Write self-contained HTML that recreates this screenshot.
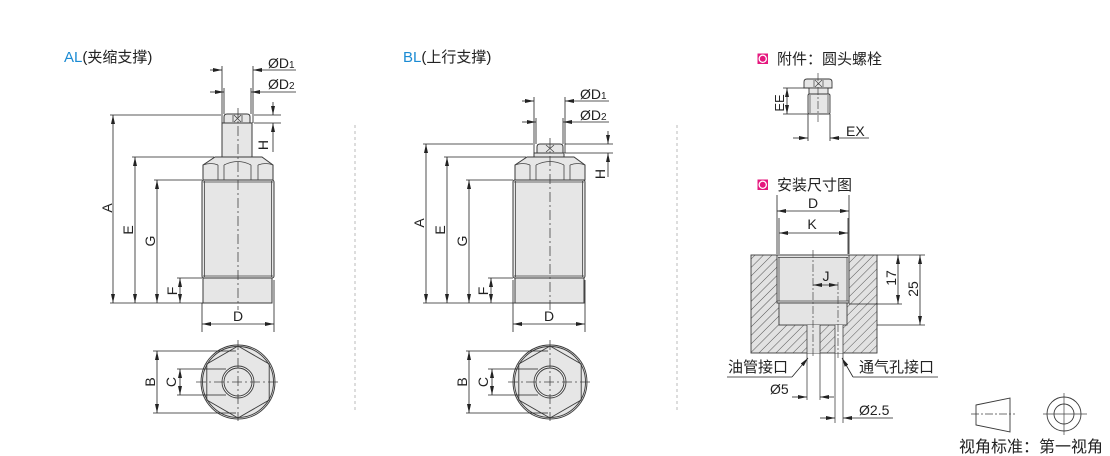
<!DOCTYPE html>
<html><head><meta charset="utf-8">
<style>
html,body{margin:0;padding:0;background:#fff}
svg{display:block}
text{font-family:"Liberation Sans","Noto Sans CJK SC",sans-serif;fill:#222}
</style></head>
<body>
<svg width="1110" height="456" viewBox="0 0 1110 456" xmlns="http://www.w3.org/2000/svg">
<defs>
<marker id="ar" viewBox="0 0 9 4" refX="9" refY="2" markerWidth="9" markerHeight="4" orient="auto-start-reverse" markerUnits="userSpaceOnUse"><path d="M0,0L9,2L0,4z" fill="#222"/></marker>
<pattern id="h" width="6" height="6" patternUnits="userSpaceOnUse" patternTransform="rotate(45)"><rect width="6" height="6" fill="#e2e2e2"/><line x1="0" y1="0" x2="0" y2="6" stroke="#555" stroke-width="1"/></pattern>
</defs>

<!-- separators -->
<line x1="355" y1="125" x2="355" y2="410" stroke="#bbb" stroke-width="1" stroke-dasharray="3 3"/>
<line x1="677" y1="125" x2="677" y2="410" stroke="#bbb" stroke-width="1" stroke-dasharray="3 3"/>

<!-- ================= AL ================= -->
<text x="64" y="62" font-size="15"><tspan fill="#1b8bd3">AL</tspan>(夹缩支撑)</text>

<g fill="#e6e6e6" stroke="#3a3a3a" stroke-width="1">
  <rect x="202" y="180" width="72" height="98" rx="2"/>
  <rect x="203" y="278" width="69" height="25"/>
  <polygon points="215,157 262,157 273,165 273,180 203,180 203,165"/>
  <rect x="222" y="123" width="30" height="34"/>
  <path d="M224,123V117Q224,114 227,114H247Q250,114 250,117V123Z"/>
</g>
<g stroke="#444" stroke-width="0.8" fill="none">
  <path d="M204.5,181V277M271.5,181V277M203,182H273M203,276H273"/>
  <path d="M218,165V180M224,165V180M251,165V180M258,165V180"/>
  <path d="M203,165Q211,162 218,165M224,165Q238,158 251,165M258,165Q266,162 273,165"/>
  <path d="M233,115V122M242,115V122M234,115L241,122M241,115L234,122"/>
</g>
<line x1="238" y1="108" x2="238" y2="310" stroke="#444" stroke-width="0.8" stroke-dasharray="10 3 2 3"/>

<g stroke="#222" stroke-width="0.8" fill="none">
  <path d="M222,66V123M253,66V123M224,88V114M251,88V114"/>
  <line x1="210" y1="70" x2="222" y2="70" marker-end="url(#ar)"/>
  <line x1="296" y1="70" x2="253" y2="70" marker-end="url(#ar)"/>
  <line x1="210" y1="92" x2="224" y2="92" marker-end="url(#ar)"/>
  <line x1="296" y1="92" x2="251" y2="92" marker-end="url(#ar)"/>
  <path d="M254,115H281M254,123H281"/>
  <line x1="273" y1="102" x2="273" y2="115" marker-end="url(#ar)"/>
  <line x1="273" y1="152" x2="273" y2="123" marker-end="url(#ar)"/>
  <path d="M110,115H221M132,157H214M154,180H202M177,278H202M110,303H203"/>
  <line x1="113" y1="115" x2="113" y2="303" marker-start="url(#ar)" marker-end="url(#ar)"/>
  <line x1="135" y1="157" x2="135" y2="303" marker-start="url(#ar)" marker-end="url(#ar)"/>
  <line x1="157" y1="180" x2="157" y2="303" marker-start="url(#ar)" marker-end="url(#ar)"/>
  <line x1="180" y1="278" x2="180" y2="303" marker-start="url(#ar)" marker-end="url(#ar)"/>
  <path d="M202,303V332M274,280V332"/>
  <line x1="202" y1="324" x2="274" y2="324" marker-start="url(#ar)" marker-end="url(#ar)"/>
</g>
<text x="268" y="68" font-size="14">ØD<tspan font-size="10">1</tspan></text>
<text x="268" y="89" font-size="14">ØD<tspan font-size="10">2</tspan></text>
<text transform="translate(268,145) rotate(-90)" text-anchor="middle" font-size="14">H</text>
<text transform="translate(112,208) rotate(-90)" text-anchor="middle" font-size="14">A</text>
<text transform="translate(133,230) rotate(-90)" text-anchor="middle" font-size="14">E</text>
<text transform="translate(155,241) rotate(-90)" text-anchor="middle" font-size="14">G</text>
<text transform="translate(177,291) rotate(-90)" text-anchor="middle" font-size="14">F</text>
<text x="238" y="321" text-anchor="middle" font-size="14">D</text>

<!-- AL bottom view -->
<g fill="#e6e6e6" stroke="#3a3a3a" stroke-width="0.9">
  <circle cx="238" cy="382" r="37"/>
  <circle cx="238" cy="382" r="35.5" fill="none"/>
  <polygon points="238,346 269.2,364 269.2,400 238,418 206.8,400 206.8,364" fill="none"/>
  <circle cx="238" cy="382" r="16" fill="#f2f2f2"/>
  <circle cx="238" cy="382" r="14" fill="#e6e6e6"/>
</g>
<g stroke="#444" stroke-width="0.8" stroke-dasharray="10 3 2 3">
  <line x1="196" y1="382" x2="281" y2="382"/>
  <line x1="238" y1="340" x2="238" y2="421"/>
</g>
<g stroke="#222" stroke-width="0.8" fill="none">
  <path d="M153,351H236M153,413H236M177,369H226M177,395H226"/>
  <line x1="157" y1="351" x2="157" y2="413" marker-start="url(#ar)" marker-end="url(#ar)"/>
  <line x1="180" y1="369" x2="180" y2="395" marker-start="url(#ar)" marker-end="url(#ar)"/>
</g>
<text transform="translate(155,382) rotate(-90)" text-anchor="middle" font-size="14">B</text>
<text transform="translate(176,382) rotate(-90)" text-anchor="middle" font-size="14">C</text>

<!-- ================= BL ================= -->
<text x="403" y="62" font-size="15"><tspan fill="#1b8bd3">BL</tspan>(上行支撑)</text>

<g fill="#e6e6e6" stroke="#3a3a3a" stroke-width="1">
  <rect x="513" y="180" width="72" height="98" rx="2"/>
  <rect x="515" y="278" width="69" height="25"/>
  <polygon points="527,157 574,157 585,165 585,180 515,180 515,165"/>
  <rect x="534" y="153" width="30" height="4"/>
  <path d="M537,153V147Q537,144 540,144H560Q563,144 563,147V153Z"/>
</g>
<g stroke="#444" stroke-width="0.8" fill="none">
  <path d="M515.5,181V277M582.5,181V277M514,182H584M514,276H584"/>
  <path d="M530,165V180M536,165V180M564,165V180M570,165V180"/>
  <path d="M515,165Q523,162 530,165M536,165Q550,158 564,165M570,165Q578,162 585,165"/>
  <path d="M546,145L554,152M554,145L546,152"/>
</g>
<line x1="550" y1="138" x2="550" y2="310" stroke="#444" stroke-width="0.8" stroke-dasharray="10 3 2 3"/>

<g stroke="#222" stroke-width="0.8" fill="none">
  <path d="M534,97V153M565,97V153M536,118V144M563,118V144"/>
  <line x1="522" y1="101" x2="534" y2="101" marker-end="url(#ar)"/>
  <line x1="609" y1="101" x2="565" y2="101" marker-end="url(#ar)"/>
  <line x1="522" y1="122" x2="536" y2="122" marker-end="url(#ar)"/>
  <line x1="609" y1="122" x2="563" y2="122" marker-end="url(#ar)"/>
  <path d="M565,144H613M565,153H613"/>
  <line x1="608" y1="131" x2="608" y2="144" marker-end="url(#ar)"/>
  <line x1="608" y1="177" x2="608" y2="153" marker-end="url(#ar)"/>
  <path d="M423,144H533M444,157H526M466,180H513M488,278H513M423,303H515"/>
  <line x1="426" y1="144" x2="426" y2="303" marker-start="url(#ar)" marker-end="url(#ar)"/>
  <line x1="447" y1="157" x2="447" y2="303" marker-start="url(#ar)" marker-end="url(#ar)"/>
  <line x1="469" y1="180" x2="469" y2="303" marker-start="url(#ar)" marker-end="url(#ar)"/>
  <line x1="491" y1="278" x2="491" y2="303" marker-start="url(#ar)" marker-end="url(#ar)"/>
  <path d="M513,280V332M585,280V332"/>
  <line x1="513" y1="324" x2="585" y2="324" marker-start="url(#ar)" marker-end="url(#ar)"/>
</g>
<text x="580" y="99" font-size="14">ØD<tspan font-size="10">1</tspan></text>
<text x="580" y="120" font-size="14">ØD<tspan font-size="10">2</tspan></text>
<text transform="translate(605,174) rotate(-90)" text-anchor="middle" font-size="14">H</text>
<text transform="translate(424,223) rotate(-90)" text-anchor="middle" font-size="14">A</text>
<text transform="translate(445,230) rotate(-90)" text-anchor="middle" font-size="14">E</text>
<text transform="translate(467,241) rotate(-90)" text-anchor="middle" font-size="14">G</text>
<text transform="translate(488,291) rotate(-90)" text-anchor="middle" font-size="14">F</text>
<text x="549" y="321" text-anchor="middle" font-size="14">D</text>

<!-- BL bottom view -->
<g fill="#e6e6e6" stroke="#3a3a3a" stroke-width="0.9">
  <circle cx="550" cy="382" r="37"/>
  <circle cx="550" cy="382" r="35.5" fill="none"/>
  <polygon points="550,346 581.2,364 581.2,400 550,418 518.8,400 518.8,364" fill="none"/>
  <circle cx="550" cy="382" r="16" fill="#f2f2f2"/>
  <circle cx="550" cy="382" r="14" fill="#e6e6e6"/>
</g>
<g stroke="#444" stroke-width="0.8" stroke-dasharray="10 3 2 3">
  <line x1="508" y1="382" x2="593" y2="382"/>
  <line x1="550" y1="340" x2="550" y2="421"/>
</g>
<g stroke="#222" stroke-width="0.8" fill="none">
  <path d="M466,351H548M466,413H548M488,369H538M488,395H538"/>
  <line x1="469" y1="351" x2="469" y2="413" marker-start="url(#ar)" marker-end="url(#ar)"/>
  <line x1="492" y1="369" x2="492" y2="395" marker-start="url(#ar)" marker-end="url(#ar)"/>
</g>
<text transform="translate(467,382) rotate(-90)" text-anchor="middle" font-size="14">B</text>
<text transform="translate(488,382) rotate(-90)" text-anchor="middle" font-size="14">C</text>

<!-- ================= Right: accessory ================= -->
<rect x="757.5" y="53.5" width="10.5" height="10.5" fill="#e5177e"/>
<circle cx="762.75" cy="58.75" r="3.6" fill="none" stroke="#fff" stroke-width="1.3"/>
<text x="777" y="64" font-size="15">附件：圆头螺栓</text>

<g fill="#e6e6e6" stroke="#3a3a3a" stroke-width="0.9">
  <path d="M804,88V82Q804,79 807,79H829Q832,79 832,82V88Z"/>
  <rect x="809" y="88" width="19" height="6"/>
  <rect x="808" y="94" width="22" height="20" rx="1.5"/>
</g>
<g stroke="#444" stroke-width="0.7" fill="none">
  <path d="M810,95V113M828,95V113"/>
  <path d="M814,80V87M823,80V87M815,80L822,87M822,80L815,87"/>
</g>
<line x1="818" y1="73" x2="818" y2="122" stroke="#444" stroke-width="0.7" stroke-dasharray="8 2 2 2"/>
<g stroke="#222" stroke-width="0.8" fill="none">
  <path d="M783,88H804M783,114H808M808,114V141M830,114V141"/>
  <line x1="787" y1="88" x2="787" y2="114" marker-start="url(#ar)" marker-end="url(#ar)"/>
  <line x1="793" y1="138" x2="808" y2="138" marker-end="url(#ar)"/>
  <line x1="869" y1="138" x2="830" y2="138" marker-end="url(#ar)"/>
</g>
<text transform="translate(784,103) rotate(-90)" text-anchor="middle" font-size="13">EE</text>
<text x="846" y="136" font-size="14">EX</text>

<!-- ================= Right: mounting ================= -->
<rect x="757.5" y="179.5" width="10.5" height="10.5" fill="#e5177e"/>
<circle cx="762.75" cy="184.75" r="3.6" fill="none" stroke="#fff" stroke-width="1.3"/>
<text x="777" y="190" font-size="15">安装尺寸图</text>

<rect x="751" y="255" width="126" height="98" fill="url(#h)" stroke="#3a3a3a" stroke-width="0.9"/>
<g fill="#e4e4e4" stroke="#3a3a3a" stroke-width="0.9">
  <rect x="777" y="255" width="72" height="48"/>
  <rect x="779" y="303" width="68" height="22"/>
  <rect x="807" y="325" width="13" height="28" stroke="none"/>
  <rect x="835" y="325" width="8" height="28" fill="#efefef" stroke="none"/>
</g>
<g stroke="#444" stroke-width="0.8" fill="none">
  <path d="M779,257V301M847,257V301M778,257.5H848M777,301H849"/>
  <path d="M807,325V400M820,325V400M835,325V423M843,325V423"/>
</g>
<g stroke="#444" stroke-width="0.7" stroke-dasharray="8 2 2 2">
  <line x1="813" y1="250" x2="813" y2="358"/>
  <line x1="838" y1="282" x2="838" y2="358"/>
</g>
<g stroke="#222" stroke-width="0.8" fill="none">
  <path d="M777,195V254M849,195V254M779,218V254M848,218V254"/>
  <line x1="777" y1="211" x2="849" y2="211" marker-start="url(#ar)" marker-end="url(#ar)"/>
  <line x1="779" y1="233" x2="848" y2="233" marker-start="url(#ar)" marker-end="url(#ar)"/>
  <line x1="813" y1="285" x2="838" y2="285" marker-start="url(#ar)" marker-end="url(#ar)"/>
  <path d="M877,255H925M849,304H902M877,325H925"/>
  <line x1="898" y1="255" x2="898" y2="304" marker-start="url(#ar)" marker-end="url(#ar)"/>
  <line x1="920" y1="255" x2="920" y2="325" marker-start="url(#ar)" marker-end="url(#ar)"/>
  <path d="M727,377H792M853,377H938"/>
  <line x1="792" y1="377" x2="808" y2="358" marker-end="url(#ar)"/>
  <line x1="853" y1="377" x2="842" y2="358" marker-end="url(#ar)"/>
  <line x1="792" y1="397" x2="807" y2="397" marker-end="url(#ar)"/>
  <line x1="834" y1="397" x2="820" y2="397" marker-end="url(#ar)"/>
  <line x1="820" y1="418" x2="835" y2="418" marker-end="url(#ar)"/>
  <line x1="893" y1="418" x2="843" y2="418" marker-end="url(#ar)"/>
</g>
<text x="813" y="208" text-anchor="middle" font-size="14">D</text>
<text x="812" y="229" text-anchor="middle" font-size="14">K</text>
<text x="826" y="281" text-anchor="middle" font-size="14">J</text>
<text transform="translate(896,278) rotate(-90)" text-anchor="middle" font-size="14">17</text>
<text transform="translate(918,289) rotate(-90)" text-anchor="middle" font-size="14">25</text>
<text x="728" y="372" font-size="15">油管接口</text>
<text x="859" y="372" font-size="15">通气孔接口</text>
<text x="770" y="394" font-size="14">Ø5</text>
<text x="859" y="415" font-size="14">Ø2.5</text>

<!-- ================= view symbol ================= -->
<polygon points="976,405 1010,398 1010,432 976,425" fill="none" stroke="#3a3a3a" stroke-width="0.9"/>
<line x1="971" y1="414" x2="1015" y2="414" stroke="#444" stroke-width="0.7" stroke-dasharray="8 2 2 2"/>
<circle cx="1064" cy="414" r="17" fill="none" stroke="#3a3a3a" stroke-width="0.9"/>
<circle cx="1064" cy="414" r="10" fill="none" stroke="#3a3a3a" stroke-width="0.9"/>
<g stroke="#444" stroke-width="0.7">
  <line x1="1043" y1="414" x2="1087" y2="414"/>
  <line x1="1064" y1="393" x2="1064" y2="435"/>
</g>
<text x="959" y="452" font-size="16">视角标准：第一视角</text>
</svg>
</body></html>
